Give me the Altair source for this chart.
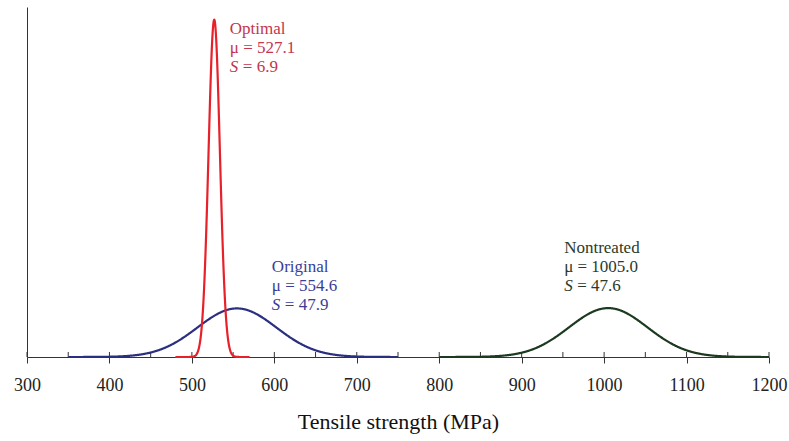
import altair as alt
import numpy as np
import pandas as pd

# Series parameters (as printed on the chart)
names = ["Original", "Nontreated", "Optimal"]
means = [554.6, 1005.0, 527.1]
sds = [47.9, 47.6, 6.9]
x_lo = [350, 800, 480]
x_hi = [750, 1200, 570]
line_colors = ["#2b2f80", "#1c3a20", "#e8202a"]
text_colors = ["#3a3e96", "#2b3a2b", "#c4354e"]
x_ticks = [300, 400, 500, 600, 700, 800, 900, 1000, 1100, 1200]
minor_ticks = list(range(300, 1201, 50))

# label anchors (data coords: x in MPa, y in density)
label_x = [597.0, 951.5, 546.0]
label_y = [0.01545, 0.0187, 0.0562]
line_gap = 0.00328

rows = []
for n, m, s, lo, hi in zip(names, means, sds, x_lo, x_hi):
    xs = np.linspace(lo, hi, 801)
    ys = np.exp(-0.5 * ((xs - m) / s) ** 2) / (s * np.sqrt(2 * np.pi))
    for a, b in zip(xs, ys):
        rows.append({"name": n, "x": a, "y": b})
curves = pd.DataFrame(rows)

ann = []
for n, m, s, lx, ly, c in zip(names, means, sds, label_x, label_y, text_colors):
    ann.append({"name": n, "x": lx, "y": ly, "t": n, "c": c, "dx": 0, "style": "normal"})
    ann.append({"name": n, "x": lx, "y": ly - line_gap, "t": f"\u03bc = {m:.1f}", "c": c, "dx": 0, "style": "normal"})
    ann.append({"name": n, "x": lx, "y": ly - 2 * line_gap, "t": "S", "c": c, "dx": 0, "style": "italic"})
    ann.append({"name": n, "x": lx, "y": ly - 2 * line_gap, "t": f"= {s:.1f}", "c": c, "dx": 13, "style": "normal"})
ann = pd.DataFrame(ann)

FONT = "Liberation Serif"
xscale = alt.Scale(domain=[300, 1200], nice=False, zero=False)
yscale = alt.Scale(domain=[0, 0.06], nice=False)

xaxis = alt.Axis(values=x_ticks, format="d", labelFlush=False, labelOverlap=False,
                 tickSize=6, tickColor="#333333", domainColor="#333333",
                 labelFont=FONT, labelFontSize=18, labelColor="#222222", labelPadding=13,
                 title="Tensile strength (MPa)", titleFont=FONT, titleFontSize=22,
                 titleFontWeight="normal", titleColor="#111111", titlePadding=17, grid=False)
yaxis = alt.Axis(labels=False, ticks=False, title=None, grid=False, domainColor="#333333")

layers = []
for n, c in zip(names, line_colors):
    layers.append(
        alt.Chart(curves).transform_filter(alt.datum.name == n).mark_line(strokeWidth=2.2, color=c).encode(
            x=alt.X("x:Q", scale=xscale, axis=xaxis),
            y=alt.Y("y:Q", scale=yscale, axis=yaxis),
        )
    )

ticks = alt.Chart(pd.DataFrame({"x": minor_ticks})).mark_rule(color="#333333", strokeWidth=1).encode(
    x=alt.X("x:Q", scale=xscale), y=alt.value(345), y2=alt.value(350)
)

texts = []
for style in ["normal", "italic"]:
    sub = ann[ann["style"] == style]
    for dx in sorted(sub["dx"].unique()):
        d = sub[sub["dx"] == dx]
        texts.append(
            alt.Chart(d).mark_text(font=FONT, fontSize=17, align="left", baseline="middle",
                                   fontStyle=style, dx=int(dx)).encode(
                x=alt.X("x:Q", scale=xscale), y=alt.Y("y:Q", scale=yscale),
                text="t:N", color=alt.Color("c:N", scale=None)
            )
        )

chart = alt.layer(ticks, *layers, *texts).properties(
    width=742, height=350,
    autosize=alt.AutoSizeParams(type="none"),
    padding={"left": 27, "top": 7, "right": 20, "bottom": 84},
    background="white",
).configure_view(stroke=None)

chart.save("out.html", embed_options={"renderer": "svg", "actions": False})
